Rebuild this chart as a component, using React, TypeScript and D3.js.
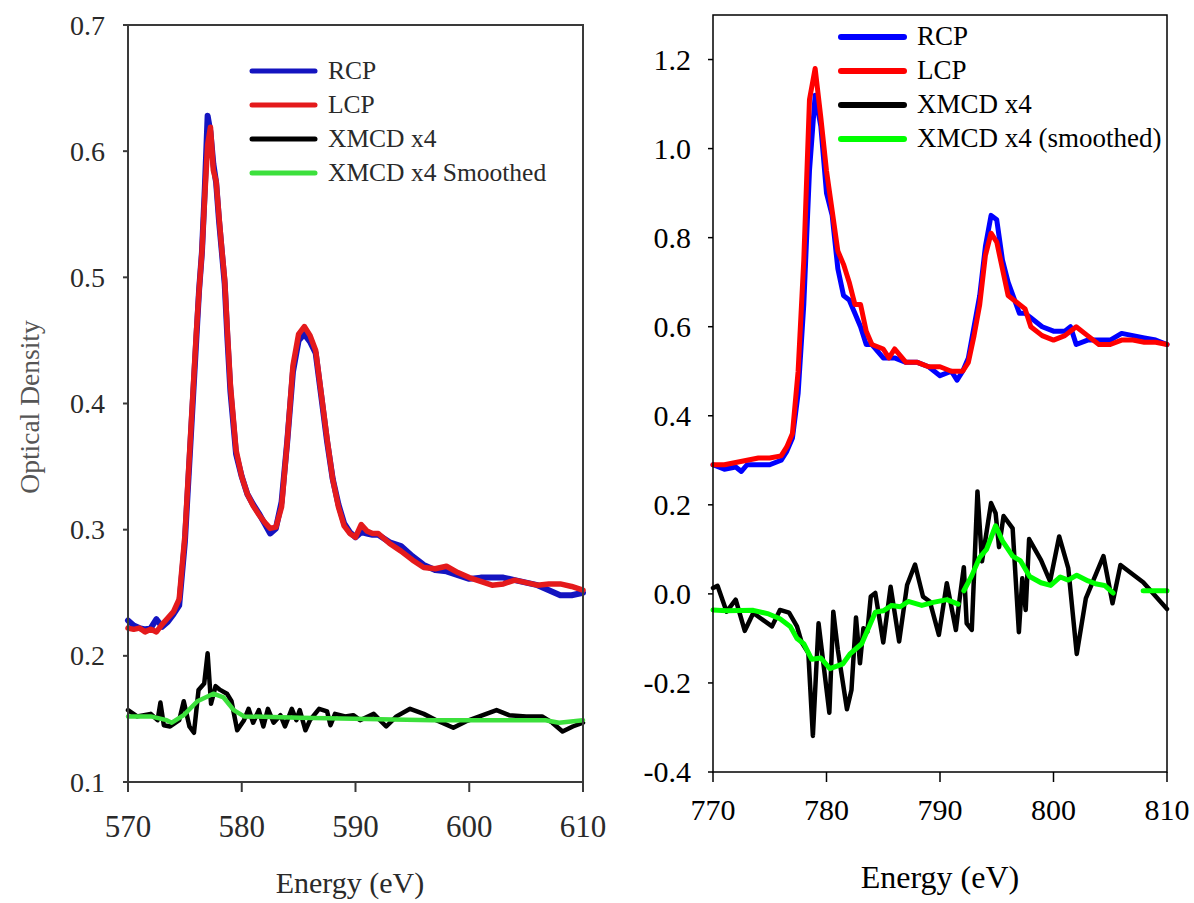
import * as d3 from "d3";

// ---- left panel (570-610 eV) ----
const leftE = [570, 570.5, 571, 571.5, 572, 572.5, 573, 573.5, 574, 574.5, 575, 575.5, 576, 576.25, 576.5, 576.75, 577, 577.25, 577.5, 577.75, 578, 578.25, 578.5, 578.75, 579, 579.5, 580, 580.5, 581, 581.5, 582, 582.5, 583, 583.5, 584, 584.5, 585, 585.5, 586, 586.5, 587, 587.5, 588, 588.5, 589, 589.5, 590, 590.5, 591, 591.5, 592, 593, 594, 595, 596, 597, 598, 599, 600, 601, 602, 603, 604, 605, 606, 607, 608, 609, 610];
const leftRCP = [0.228, 0.224, 0.222, 0.221, 0.222, 0.229, 0.223, 0.227, 0.233, 0.24, 0.29, 0.37, 0.45, 0.49, 0.52, 0.57, 0.628, 0.615, 0.59, 0.575, 0.545, 0.52, 0.495, 0.45, 0.41, 0.36, 0.342, 0.328, 0.32, 0.313, 0.305, 0.297, 0.301, 0.322, 0.37, 0.425, 0.45, 0.455, 0.449, 0.44, 0.405, 0.37, 0.34, 0.32, 0.305, 0.298, 0.294, 0.298, 0.297, 0.296, 0.296, 0.29, 0.287, 0.279, 0.272, 0.268, 0.267, 0.264, 0.261, 0.262, 0.262, 0.262, 0.26, 0.258, 0.256, 0.252, 0.248, 0.248, 0.25];
const leftLCP = [0.222, 0.221, 0.222, 0.219, 0.221, 0.219, 0.225, 0.23, 0.235, 0.245, 0.295, 0.375, 0.455, 0.49, 0.52, 0.565, 0.605, 0.619, 0.585, 0.576, 0.548, 0.522, 0.498, 0.455, 0.415, 0.363, 0.342, 0.328, 0.319, 0.312, 0.306, 0.301, 0.302, 0.318, 0.37, 0.43, 0.455, 0.461, 0.454, 0.442, 0.407, 0.372, 0.34, 0.318, 0.303, 0.297, 0.294, 0.304, 0.299, 0.297, 0.297, 0.289, 0.283, 0.276, 0.27, 0.269, 0.271, 0.266, 0.262, 0.259, 0.256, 0.257, 0.26, 0.258, 0.256, 0.257, 0.257, 0.255, 0.252];

const leftXmcdE = [570, 570.8, 572, 572.6, 572.85, 573.15, 573.7, 574.5, 574.9, 575.4, 575.8, 576.2, 576.7, 577, 577.3, 577.7, 578.1, 578.7, 579.1, 579.6, 580.2, 580.6, 581, 581.5, 581.9, 582.3, 582.8, 583.4, 583.8, 584.4, 584.8, 585.1, 585.6, 586, 586.8, 587.5, 587.8, 588.2, 589.1, 589.8, 590.4, 591.6, 592.7, 593.6, 594.8, 596, 597.1, 598.6, 599.7, 600.9, 602.4, 603.5, 605, 606.4, 607.3, 608.2, 609.1, 610];
const leftXmcd = [0.157, 0.152, 0.154, 0.149, 0.163, 0.145, 0.144, 0.149, 0.164, 0.144, 0.139, 0.173, 0.178, 0.202, 0.162, 0.176, 0.173, 0.17, 0.164, 0.141, 0.149, 0.158, 0.147, 0.157, 0.144, 0.158, 0.147, 0.153, 0.144, 0.158, 0.149, 0.157, 0.141, 0.149, 0.158, 0.156, 0.145, 0.154, 0.152, 0.153, 0.149, 0.154, 0.144, 0.152, 0.158, 0.154, 0.149, 0.143, 0.148, 0.152, 0.157, 0.153, 0.152, 0.152, 0.147, 0.14, 0.144, 0.147];
const leftSmoothE = [570, 572, 573.4, 573.85, 574.9, 576.1, 577.5, 578.4, 579.3, 580.2, 585.1, 591, 596.8, 602.7, 606.7, 607.9, 610];
const leftSmooth = [0.152, 0.152, 0.149, 0.147, 0.153, 0.164, 0.17, 0.167, 0.157, 0.152, 0.151, 0.15, 0.149, 0.149, 0.149, 0.147, 0.149];

const leftYTicks = [0.1, 0.2, 0.3, 0.4, 0.5, 0.6, 0.7];
const leftXTicks = [570, 580, 590, 600, 610];
const leftLegend = ["RCP", "LCP", "XMCD x4", "XMCD x4 Smoothed"];

// ---- right panel (770-810 eV) ----
const rightRcpE = [770, 771, 772, 772.5, 773, 774, 775, 776, 776.5, 777, 777.5, 778, 778.5, 779, 779.5, 780, 780.5, 781, 781.5, 782, 782.5, 783, 783.5, 784, 785, 786, 787, 788, 789, 790, 791, 791.5, 792, 792.5, 793, 793.5, 794, 794.5, 795, 795.5, 796, 797, 797.5, 798, 799, 800, 801, 801.5, 802, 803, 804, 805, 806, 807, 808, 809, 810];
const rightRCP = [0.29, 0.28, 0.285, 0.275, 0.29, 0.29, 0.29, 0.3, 0.32, 0.35, 0.45, 0.65, 0.95, 1.12, 1.05, 0.9, 0.85, 0.73, 0.67, 0.66, 0.63, 0.6, 0.56, 0.56, 0.53, 0.53, 0.52, 0.52, 0.51, 0.49, 0.5, 0.48, 0.5, 0.53, 0.6, 0.67, 0.78, 0.85, 0.84, 0.75, 0.7, 0.63, 0.63, 0.62, 0.6, 0.59, 0.59, 0.6, 0.56, 0.57, 0.57, 0.57, 0.585, 0.58, 0.575, 0.57, 0.56];
const rightLcpE = [770, 771, 772, 773, 774, 775, 776, 776.5, 777, 777.5, 778, 778.5, 779, 779.5, 780, 780.5, 781, 781.5, 782, 782.5, 783, 783.5, 784, 785, 785.5, 786, 787, 788, 789, 790, 791, 792, 792.5, 793, 793.5, 794, 794.5, 795, 795.5, 796, 797, 797.5, 798, 799, 800, 801, 802, 803, 804, 805, 806, 807, 808, 809, 810];
const rightLCP = [0.29, 0.29, 0.295, 0.3, 0.305, 0.305, 0.31, 0.33, 0.36, 0.5, 0.75, 1.11, 1.18, 1.07, 0.95, 0.86, 0.77, 0.74, 0.7, 0.65, 0.65, 0.59, 0.56, 0.55, 0.53, 0.55, 0.52, 0.52, 0.51, 0.51, 0.5, 0.5, 0.52, 0.58, 0.65, 0.76, 0.81, 0.79, 0.73, 0.67, 0.65, 0.64, 0.6, 0.58, 0.57, 0.58, 0.6, 0.58, 0.56, 0.56, 0.57, 0.57, 0.565, 0.565, 0.56];

const rightXmcdE = [770, 770.4, 771.2, 772, 772.8, 773.55, 775.2, 775.9, 776.7, 777.4, 777.8, 778.4, 778.8, 779.3, 780.25, 780.6, 781, 781.8, 782.2, 782.6, 782.95, 783.25, 783.6, 783.9, 784.3, 785, 785.65, 786.4, 787.1, 787.8, 788.5, 789.1, 789.9, 790.6, 791.4, 791.7, 792.1, 792.35, 792.8, 793.3, 793.7, 794.5, 794.9, 795.2, 795.6, 796.4, 796.95, 797.25, 797.55, 797.85, 798.9, 799.7, 800.5, 801.3, 802.05, 802.85, 804.4, 805.2, 805.9, 807.9, 810];
const rightXmcd = [0.013, 0.018, -0.04, -0.013, -0.083, -0.043, -0.073, -0.036, -0.042, -0.073, -0.108, -0.133, -0.319, -0.066, -0.267, -0.04, -0.126, -0.259, -0.216, -0.053, -0.156, -0.077, -0.085, -0.006, 0.002, -0.109, 0.016, -0.107, 0.02, 0.066, -0.006, -0.017, -0.092, 0.024, -0.081, -0.017, 0.06, -0.066, -0.081, 0.23, 0.073, 0.204, 0.181, 0.105, 0.175, 0.147, -0.086, 0.035, -0.036, 0.123, 0.076, 0.028, 0.129, 0.058, -0.135, -0.01, 0.085, -0.021, 0.065, 0.026, -0.034];
// null marks the breaks in the smoothed trace
const rightSmoothE = [770, 771.2, 773.55, 774.9, 775.9, 776.8, 777.4, 778, 778.7, 779.5, 780.3, 781.45, 782.1, 783.1, 784.3, 785, 785.75, 786.5, 787.2, 788.4, 789.4, 790.6, 791.6, 791.85, 792.1, 792.8, 793.5, 794.1, 794.9, 795.5, 796.4, 797.1, 797.9, 798.9, 799.75, 800.6, 801.3, 802.05, 803.05, 803.8, 804.5, 805.25, 806.5, 807.9, 810];
const rightSmooth = [-0.036, -0.038, -0.037, -0.045, -0.056, -0.073, -0.1, -0.112, -0.147, -0.144, -0.168, -0.157, -0.134, -0.112, -0.041, -0.038, -0.026, -0.029, -0.017, -0.026, -0.019, -0.013, -0.023, null, 0.007, 0.041, 0.082, 0.1, 0.153, 0.119, 0.085, 0.074, 0.039, 0.025, 0.019, 0.038, 0.031, 0.042, 0.029, 0.022, 0.019, 0.002, null, 0.007, 0.007];

const rightYTicks = [-0.4, -0.2, 0.0, 0.2, 0.4, 0.6, 0.8, 1.0, 1.2];
const rightXTicks = [770, 780, 790, 800, 810];
const rightLegend = ["RCP", "LCP", "XMCD x4", "XMCD x4 (smoothed)"];

const FONT = "'Liberation Serif', 'Times New Roman', serif";
// plain hyphen for negatives, as in the original
const fmt1 = (t: number) => (Math.abs(t) < 1e-9 ? 0 : t).toFixed(1);

type Pt = [number, number | null];
const zip = (xs: number[], ys: (number | null)[]): Pt[] => xs.map((x, i) => [x, ys[i]]);

function Panel(props: any) {
  const { x, y, ticksX, ticksY, series, legend, legendColors, st } = props;
  const line = d3
    .line<Pt>()
    .defined((d) => d[1] !== null)
    .x((d) => x(d[0]))
    .y((d) => y(d[1] as number));
  const [x0, x1] = x.range();
  const [y0, y1] = y.range();
  return (
    <g fontFamily={FONT}>
      {series.map((s: any, i: number) => (
        <path key={i} d={line(s.data) || ""} fill="none" stroke={s.color} strokeWidth={s.width}
          strokeLinejoin="round" strokeLinecap="round" />
      ))}
      <rect x={x0} y={y1} width={x1 - x0} height={y0 - y1} fill="none" stroke={st.frame} strokeWidth={st.frameW} />
      {ticksY.map((t: number) => (
        <g key={"y" + t}>
          <line x1={x0 - st.tickY} x2={x0} y1={y(t)} y2={y(t)} stroke={st.frame} strokeWidth={st.frameW} />
          <text x={st.yLabelX} y={y(t)} dy="0.34em" textAnchor="end" fontSize={st.yFont} fill={st.text}>{fmt1(t)}</text>
        </g>
      ))}
      {ticksX.map((t: number) => (
        <g key={"x" + t}>
          <line x1={x(t)} x2={x(t)} y1={y0} y2={y0 + st.tickX} stroke={st.frame} strokeWidth={st.frameW} />
          <text x={x(t)} y={st.xLabelY} textAnchor="middle" fontSize={st.xFont} fill={st.text}>{t}</text>
        </g>
      ))}
      <text x={st.titleX} y={st.titleY} textAnchor="middle" fontSize={st.titleFont} fill={st.text}>Energy (eV)</text>
      {legend.map((name: string, i: number) => {
        const ly = st.legY + i * st.legStep;
        return (
          <g key={name}>
            <line x1={st.legX} x2={st.legX + st.legLen} y1={ly} y2={ly} stroke={legendColors[i]} strokeWidth={st.legW} strokeLinecap="round" />
            <text x={st.legX + st.legLen + 13} y={ly + 8} fontSize={st.legFont} fill={st.text}>{name}</text>
          </g>
        );
      })}
    </g>
  );
}

export default function App() {
  const lx = d3.scaleLinear().domain([570, 610]).range([128, 583]);
  const ly = d3.scaleLinear().domain([0.1, 0.7]).range([782, 25]);
  const rx = d3.scaleLinear().domain([770, 810]).range([713, 1167]);
  const ry = d3.scaleLinear().domain([-0.4, 1.3]).range([772, 15]);

  const lc = ["#1414c0", "#e41a1c", "#000000", "#3ce03c"];
  const rc = ["#0000ff", "#ff0000", "#000000", "#00ff00"];

  const leftSeries = [
    { data: zip(leftE, leftRCP), color: lc[0], width: 6 },
    { data: zip(leftE, leftLCP), color: lc[1], width: 5.5 },
    { data: zip(leftXmcdE, leftXmcd), color: lc[2], width: 4.5 },
    { data: zip(leftSmoothE, leftSmooth), color: lc[3], width: 4.5 },
  ];
  const rightSeries = [
    { data: zip(rightRcpE, rightRCP), color: rc[0], width: 5 },
    { data: zip(rightLcpE, rightLCP), color: rc[1], width: 5 },
    { data: zip(rightXmcdE, rightXmcd), color: rc[2], width: 4.5 },
    { data: zip(rightSmoothE, rightSmooth), color: rc[3], width: 5 },
  ];

  return (
    <svg width={1194} height={903} style={{ position: "absolute", left: 0, top: 0, background: "#fff" }}>
      <rect width={1194} height={903} fill="#fff" />
      <Panel x={lx} y={ly} ticksX={leftXTicks} ticksY={leftYTicks}
        series={leftSeries} legend={leftLegend} legendColors={lc}
        st={{ frame: "#3a3a3a", frameW: 2, text: "#2a2a2a", tickY: 5, tickX: 10, yLabelX: 105, yFont: 28,
          xLabelY: 837, xFont: 31, titleX: 350, titleY: 893, titleFont: 30,
          legX: 252, legLen: 63, legY: 71, legStep: 34, legW: 5, legFont: 25.5 }} />
      <text transform="translate(39,407) rotate(-90)" textAnchor="middle" fontFamily={FONT} fontSize={27.5} fill="#555">Optical Density</text>
      <Panel x={rx} y={ry} ticksX={rightXTicks} ticksY={rightYTicks}
        series={rightSeries} legend={rightLegend} legendColors={rc}
        st={{ frame: "#000", frameW: 1.5, text: "#000", tickY: 5, tickX: 10, yLabelX: 691, yFont: 30,
          xLabelY: 820, xFont: 30, titleX: 940, titleY: 888, titleFont: 32,
          legX: 841, legLen: 63, legY: 37, legStep: 34, legW: 6, legFont: 27 }} />
    </svg>
  );
}
